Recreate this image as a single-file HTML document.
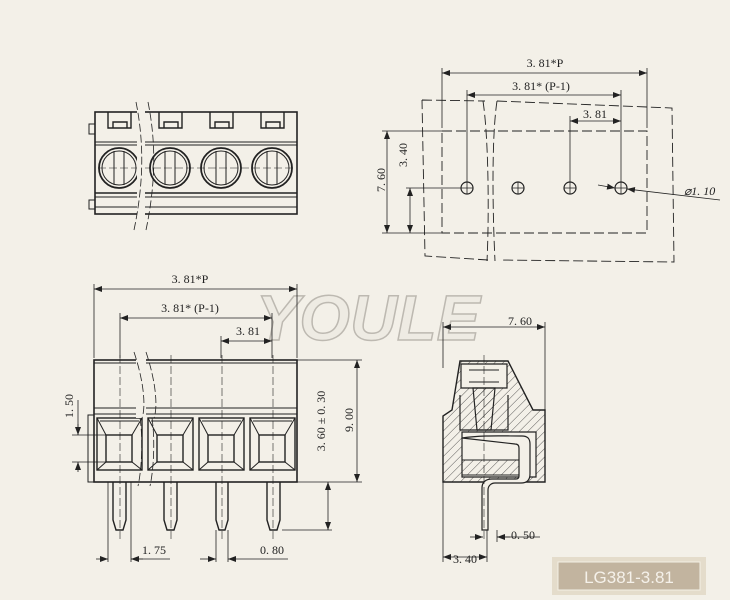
<!DOCTYPE html>
<html><head><meta charset="utf-8"><style>
html,body{margin:0;padding:0;background:#f3f0e8;}
svg{display:block}
text{font-family:"Liberation Serif",serif;fill:#222;font-size:12px}
</style></head><body>
<svg width="730" height="600" viewBox="0 0 730 600" xmlns="http://www.w3.org/2000/svg">
<defs>
<marker id="a" markerWidth="8" markerHeight="6" refX="8" refY="3" orient="auto-start-reverse" markerUnits="userSpaceOnUse"><path d="M0,0L8,3L0,6z" fill="#222"/></marker>
<pattern id="h" width="6" height="6" patternUnits="userSpaceOnUse" patternTransform="rotate(45)"><line x1="0" y1="0" x2="0" y2="6" stroke="#333" stroke-width="0.8"/></pattern>
</defs>
<rect width="730" height="600" fill="#f3f0e8"/>
<!-- watermark -->
<text x="256" y="340" style="font-family:'Liberation Sans',sans-serif;font-style:italic;font-weight:bold;font-size:64px;fill:#eeebe3;stroke:#bdb9b1;stroke-width:1.5" textLength="224" lengthAdjust="spacingAndGlyphs">YOULE</text>
<g stroke="#222" fill="none" stroke-width="1">
<!-- TOP LEFT VIEW -->
<rect x="95" y="112" width="202" height="102" stroke-width="1.6"/>
<line x1="95" y1="142" x2="297" y2="142"/><line x1="95" y1="145" x2="297" y2="145"/>
<line x1="95" y1="193" x2="297" y2="193" stroke-width="1.4"/><line x1="95" y1="197" x2="297" y2="197"/><line x1="95" y1="207" x2="297" y2="207"/>
<path d="M95,124h-6v10h6M95,200h-6v9h6"/>
<g stroke-width="1.4">
<path d="M108,112v16h23v-16M113,128v-6h14v6"/>
<path d="M159,112v16h23v-16M164,128v-6h14v6"/>
<path d="M210,112v16h23v-16M215,128v-6h14v6"/>
<path d="M261,112v16h23v-16M266,128v-6h14v6"/>
</g>
<g stroke-width="1.8">
<circle cx="119" cy="168" r="20"/><circle cx="170" cy="168" r="20"/><circle cx="221" cy="168" r="20"/><circle cx="272" cy="168" r="20"/>
</g>
<g stroke-width="1">
<circle cx="119" cy="168" r="17"/><circle cx="170" cy="168" r="17"/><circle cx="221" cy="168" r="17"/><circle cx="272" cy="168" r="17"/>
<path d="M114,151v34M124,151v34M165,151v34M175,151v34M216,151v34M226,151v34M267,151v34M277,151v34"/>
</g>
<path d="M98,168H296" stroke-dasharray="8,3" stroke-width="0.6"/>
<rect x="137" y="104" width="8" height="124" fill="#f3f0e8" stroke="none"/>
<path d="M136,102c8,40 8,80 -2,128M148,102c8,40 8,80 -2,128" stroke-dasharray="8,3" stroke-width="0.8"/>

<!-- TOP RIGHT -->
<g stroke-dasharray="10,4" stroke-width="0.9">
<path d="M442,131H647V233H442Z"/>
<path d="M422,100L485,101M497,101L672,108L674,262L500,260M488,260L425,256L422,100"/>
<path d="M483,101c6,40 6,120 4,160M497,101c-6,40 -4,120 -2,160"/>
</g>
<line x1="442" y1="73" x2="647" y2="73" marker-start="url(#a)" marker-end="url(#a)" stroke-width="0.8"/>
<path d="M442,68v60M647,68v60" stroke-width="0.8"/>
<line x1="467" y1="95" x2="621" y2="95" marker-start="url(#a)" marker-end="url(#a)" stroke-width="0.8"/>
<path d="M467,90v92M621,90v92M570,116v66" stroke-width="0.8"/>
<line x1="570" y1="121" x2="621" y2="121" marker-start="url(#a)" marker-end="url(#a)" stroke-width="0.8"/>
<g stroke-width="1.2"><circle cx="467" cy="188" r="6"/><circle cx="518" cy="188" r="6"/><circle cx="570" cy="188" r="6"/><circle cx="621" cy="188" r="6"/></g>
<path d="M461,188h12M467,182v12M512,188h12M518,182v12M564,188h12M570,182v12M615,188h12M621,182v12" stroke-width="0.8"/>
<line x1="598" y1="185" x2="615" y2="188" marker-end="url(#a)" stroke-width="0.8"/>
<line x1="720" y1="200" x2="627" y2="189" marker-end="url(#a)" stroke-width="0.8"/>
<line x1="387" y1="131" x2="387" y2="233" marker-start="url(#a)" marker-end="url(#a)" stroke-width="0.8"/>
<line x1="410" y1="188" x2="410" y2="233" marker-start="url(#a)" marker-end="url(#a)" stroke-width="0.8"/>
<path d="M382,131h60M382,233h60M406,188h55" stroke-width="0.8"/>

<!-- BOTTOM LEFT FRONT VIEW -->
<line x1="94" y1="289" x2="297" y2="289" marker-start="url(#a)" marker-end="url(#a)" stroke-width="0.8"/>
<path d="M94,284v74M297,284v74" stroke-width="0.8"/>
<line x1="120" y1="318" x2="272" y2="318" marker-start="url(#a)" marker-end="url(#a)" stroke-width="0.8"/>
<path d="M120,313v45M272,313v45M221,336v22" stroke-width="0.8"/>
<line x1="221" y1="341" x2="272" y2="341" marker-start="url(#a)" marker-end="url(#a)" stroke-width="0.8"/>
<rect x="94" y="360" width="203" height="122" stroke-width="1.6"/>
<line x1="94" y1="363" x2="297" y2="363"/>
<line x1="94" y1="408" x2="297" y2="408"/><line x1="94" y1="414" x2="297" y2="414"/>
<path d="M94,415h-6v67h6"/>
<g stroke-width="1.4">
<rect x="97" y="418" width="45" height="52"/><rect x="106" y="435" width="26" height="27"/>
<rect x="148" y="418" width="45" height="52"/><rect x="157" y="435" width="26" height="27"/>
<rect x="199" y="418" width="45" height="52"/><rect x="208" y="435" width="26" height="27"/>
<rect x="250" y="418" width="45" height="52"/><rect x="259" y="435" width="26" height="27"/>
</g>
<path d="M97,418l9,17M142,418l-10,17M97,470l9,-8M142,470l-10,-8M148,418l9,17M193,418l-10,17M148,470l9,-8M193,470l-10,-8M199,418l9,17M244,418l-10,17M199,470l9,-8M244,470l-10,-8M250,418l9,17M295,418l-10,17M250,470l9,-8M295,470l-10,-8"/>
<path d="M100,421h39M151,421h39M202,421h39M253,421h39"/>
<g stroke-width="1.4">
<path d="M113,482v38l3,10h7l3,-10v-38"/>
<path d="M164,482v38l3,10h7l3,-10v-38"/>
<path d="M216,482v38l3,10h6l3,-10v-38"/>
<path d="M267,482v38l3,10h7l3,-10v-38"/>
</g>
<path d="M120,355v185M171,355v185M222,355v185M273,355v185" stroke-dasharray="8,3" stroke-width="0.6"/>
<rect x="136" y="352" width="10" height="66" fill="#f3f0e8" stroke="none"/>
<path d="M134,352c10,30 12,55 8,66M146,352c10,30 12,55 8,66M140,418c3,20 2,50 -2,68M152,418c3,20 2,50 -2,68" stroke-dasharray="8,3" stroke-width="0.8"/>
<line x1="78" y1="400" x2="78" y2="435" stroke-width="0.8"/>
<line x1="78" y1="424" x2="78" y2="435" marker-end="url(#a)" stroke-width="0.8"/>
<line x1="78" y1="472" x2="78" y2="462" marker-end="url(#a)" stroke-width="0.8"/>
<path d="M72,435h34M72,462h34" stroke-width="0.8"/>
<line x1="328" y1="482" x2="328" y2="530" marker-start="url(#a)" marker-end="url(#a)" stroke-width="0.8"/>
<path d="M282,530h50M297,482h65" stroke-width="0.8"/>
<line x1="357" y1="360" x2="357" y2="482" marker-start="url(#a)" marker-end="url(#a)" stroke-width="0.8"/>
<path d="M297,360h65" stroke-width="0.8"/>
<path d="M108,482v80M131,482v80M216,530v32M228,530v32" stroke-width="0.8"/>
<line x1="96" y1="559" x2="108" y2="559" marker-end="url(#a)" stroke-width="0.8"/>
<line x1="143" y1="559" x2="131" y2="559" marker-end="url(#a)" stroke-width="0.8"/>
<line x1="131" y1="559" x2="170" y2="559" stroke-width="0.8"/>
<line x1="200" y1="559" x2="216" y2="559" marker-end="url(#a)" stroke-width="0.8"/>
<line x1="288" y1="559" x2="228" y2="559" marker-end="url(#a)" stroke-width="0.8"/>

<!-- SIDE VIEW -->
<line x1="443" y1="327" x2="545" y2="327" marker-start="url(#a)" marker-end="url(#a)" stroke-width="0.8"/>
<path d="M443,322v46M545,322v95" stroke-width="0.8"/>
<path d="M460,361L508,361L533,410L545,410L545,482L443,482L443,416L452,410Z" fill="url(#h)" stroke-width="1.4"/>
<path d="M461,364h46v24h-46z" fill="#f3f0e8" stroke-width="1.2"/>
<path d="M469,370h30M469,382h30"/>
<path d="M473,388h22l-4,42h-14z" fill="url(#h)" stroke-width="1.2"/>
<path d="M460,395v35h48v-35" fill="none" stroke-width="1.2"/>
<path d="M462,432h74v45h-74z" fill="#f3f0e8" stroke-width="1.2"/>
<path d="M462,460h62v15h-62z" fill="url(#h)"/>
<path d="M462,438c20,-3 40,-2 60,-2c6,0 8,3 8,8v30c0,6 -3,9 -9,9h-26c-4,0 -7,3 -7,7v40h-6v-42c0,-6 4,-9 10,-9h24c2,0 3,-1 3,-3v-28c0,-3 -2,-4 -4,-4z" fill="#f3f0e8" stroke-width="1.2"/>
<path d="M484,355v185" stroke-dasharray="8,3" stroke-width="0.6"/>
<path d="M443,482v80M487,530v32M497,530v12" stroke-width="0.8"/>
<line x1="470" y1="537" x2="483" y2="537" marker-end="url(#a)" stroke-width="0.8"/>
<line x1="510" y1="537" x2="497" y2="537" marker-end="url(#a)" stroke-width="0.8"/>
<line x1="497" y1="537" x2="540" y2="537" stroke-width="0.8"/>
<line x1="443" y1="557" x2="487" y2="557" marker-start="url(#a)" marker-end="url(#a)" stroke-width="0.8"/>
</g>

<!-- labels -->
<text x="545" y="67" text-anchor="middle">3. 81*P</text>
<text x="541" y="90" text-anchor="middle">3. 81* (P-1)</text>
<text x="595" y="118" text-anchor="middle">3. 81</text>
<text x="684" y="195" style="font-style:italic">⌀1. 10</text>
<text transform="translate(385,180) rotate(-90)" text-anchor="middle">7. 60</text>
<text transform="translate(407,155) rotate(-90)" text-anchor="middle">3. 40</text>
<text x="190" y="283" text-anchor="middle">3. 81*P</text>
<text x="190" y="312" text-anchor="middle">3. 81* (P-1)</text>
<text x="248" y="335" text-anchor="middle">3. 81</text>
<text transform="translate(73,406) rotate(-90)" text-anchor="middle">1. 50</text>
<text transform="translate(325,421) rotate(-90)" text-anchor="middle">3. 60 ± 0. 30</text>
<text transform="translate(353,420) rotate(-90)" text-anchor="middle">9. 00</text>
<text x="154" y="554" text-anchor="middle">1. 75</text>
<text x="272" y="554" text-anchor="middle">0. 80</text>
<text x="520" y="325" text-anchor="middle">7. 60</text>
<text x="523" y="539" text-anchor="middle">0. 50</text>
<text x="465" y="563" text-anchor="middle">3. 40</text>

<rect x="552" y="557" width="154" height="38" fill="#e4dccb"/>
<rect x="558" y="562" width="142" height="28" fill="#c2b49f" stroke="#f3efe6" stroke-width="1"/>
<text x="629" y="583" text-anchor="middle" style="fill:#f5f1ea;font-family:'Liberation Sans',sans-serif;font-size:17px">LG381-3.81</text>
</svg>
</body></html>
